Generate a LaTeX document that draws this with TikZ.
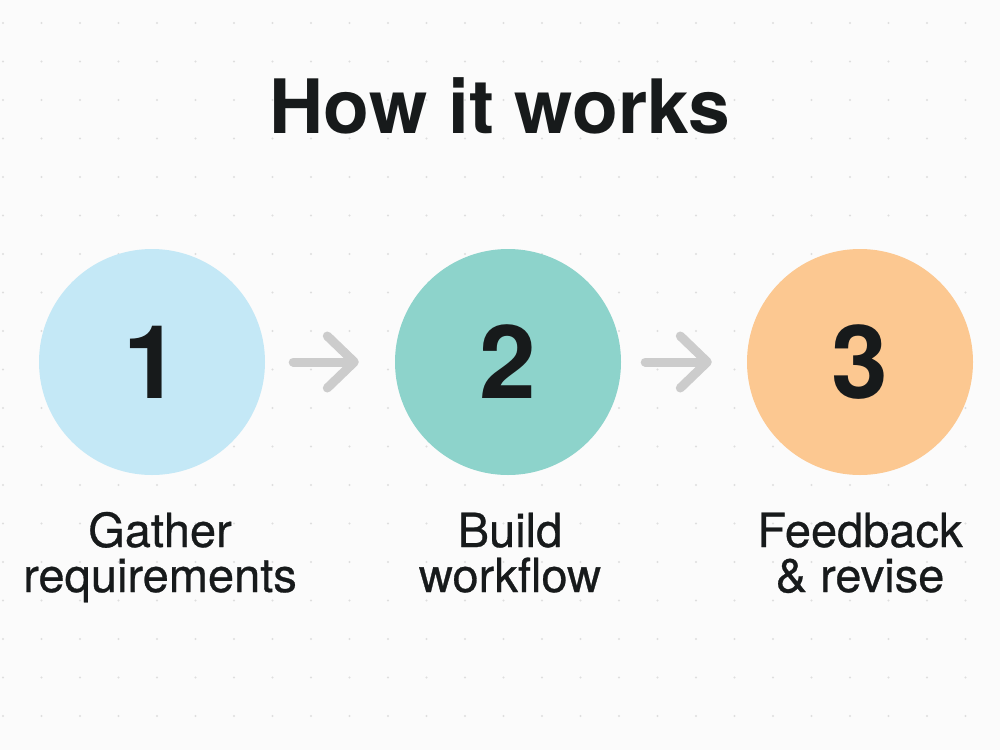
\documentclass[tikz,border=0pt]{standalone}
\usepackage{fontspec}
\setmainfont{TeX Gyre Heros}
\usetikzlibrary{positioning,arrows.meta,calc}
\definecolor{bgpaper}{HTML}{FBFBFB}
\definecolor{griddot}{HTML}{DEDEDE}
\definecolor{inkdark}{HTML}{171A1B}
\definecolor{arrowgray}{HTML}{CCCCCC}
\definecolor{stepblue}{HTML}{C4E8F6}
\definecolor{stepteal}{HTML}{8DD3CB}
\definecolor{steppeach}{HTML}{FCC891}
\begin{document}
\begin{tikzpicture}[x=1pt,y=-1pt]
        \tikzstyle{stepcircle}=[circle,minimum size=226pt,inner sep=0pt,text=inkdark,font=\fontsize{102}{102}\selectfont\bfseries]
        \tikzstyle{steplabel}=[align=center,text=inkdark,inner sep=0pt,font=\fontsize{47}{45}\selectfont\addfontfeature{FakeBold=0.6}]
        \tikzstyle{flowarrow}=[draw=arrowgray,line width=9pt,line cap=round,-{Straight Barb[length=27pt,width=52pt,round]}]
        % paper and dotted grid
        \fill[bgpaper] (0,0) rectangle (1000,750);
        \useasboundingbox (0,0) rectangle (1000,750);
        \foreach \i in {0,...,25} {
            \foreach \j in {0,...,19} {
                \fill[griddot] (3+38.5*\i,23+38.5*\j) circle (1.2pt);
            }
        }
        \node[text=inkdark,font=\fontsize{75}{75}\selectfont\bfseries,anchor=base] (title) at (500,133) {How it works};
        % the three steps
        \node[stepcircle,fill=stepblue] (c1) at (152,362) {1};
        \node[stepcircle,fill=stepteal] (c2) at (508,362) {2};
        \node[stepcircle,fill=steppeach] (c3) at (860,362) {3};
        \node[steplabel,anchor=base] (l1) at (160,592) {Gather\\requirements};
        \node[steplabel,anchor=base] (l2) at (510,592) {Build\\workflow};
        \node[steplabel,anchor=base] (l3) at (860,592) {Feedback\\\& revise};
        \draw[flowarrow] ([xshift=28pt]c1.east) -- ([xshift=-36pt]c2.west);
        \draw[flowarrow] ([xshift=24pt]c2.east) -- ([xshift=-35pt]c3.west);
\end{tikzpicture}
\end{document}
